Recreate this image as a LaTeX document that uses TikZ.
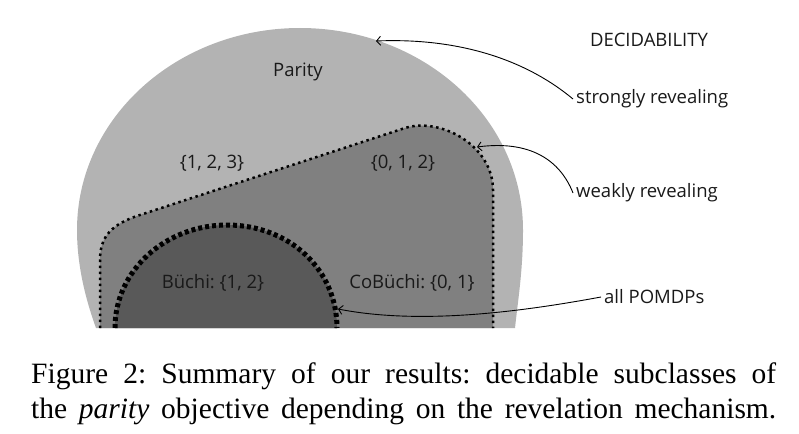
\documentclass[tikz,border=0pt]{standalone}
\usepackage{fontspec}
\setmainfont{Liberation Serif}
\newfontfamily\labelfont{Open Sans}
\usetikzlibrary{arrows.meta}
\definecolor{outergray}{HTML}{B3B3B3}
\definecolor{midgray}{HTML}{808080}
\definecolor{innergray}{HTML}{595959}
\frenchspacing
\begin{document}
\begin{tikzpicture}[x=1pt,y=-1pt,
  lbl/.style={font=\labelfont\fontsize{18.5}{22}\selectfont, inner sep=0pt, text=black!90},
  side/.style={lbl, anchor=west, inner xsep=3pt},
  conn/.style={-{Straight Barb[length=4pt,width=9pt]}, line width=0.9pt},
  dotborder/.style={line width=2.5pt, dash pattern=on 2.5pt off 3.5pt},
  dashborder/.style={line width=5pt, dash pattern=on 4pt off 3pt},
  captext/.style={anchor=base west, inner sep=0pt, font=\fontsize{29.5}{35}\selectfont}]
\useasboundingbox (0,0) rectangle (799,433);
% outer region
\fill[outergray] (96,328) .. controls (84,295) and (77,262) .. (77,230)
  .. controls (77,118) and (177,28) .. (300,28)
  .. controls (423,28) and (523,118) .. (523,230)
  .. controls (523,270) and (518,300) .. (515,328) -- cycle;
% middle region
\fill[midgray] (100,328) -- (100,260) .. controls (100,236) and (112,224) .. (140,215)
  -- (405,128) .. controls (440,117) and (493,145) .. (493,190) -- (493,328) -- cycle;
\draw[dotborder] (100,328) -- (100,260) .. controls (100,236) and (112,224) .. (140,215)
  -- (405,128) .. controls (440,117) and (493,145) .. (493,190) -- (493,328);
% inner region
\fill[innergray] (115,328) .. controls (115,270) and (166,225) .. (227,225)
  .. controls (290,225) and (337,270) .. (337,328) -- cycle;
\draw[dashborder] (115,328) .. controls (115,270) and (166,225) .. (227,225)
  .. controls (290,225) and (337,270) .. (337,328);
% region labels
\node[lbl] (parity) at (298,72) {Parity};
\node[lbl] (p123) at (212,163) {\{1, 2, 3\}};
\node[lbl] (p012) at (403,163) {\{0, 1, 2\}};
\node[lbl] (buchi) at (213,283) {Büchi: \{1, 2\}};
\node[lbl] (cobuchi) at (412,283) {CoBüchi: \{0, 1\}};
% side labels
\node[lbl] (decid) at (649,40) {DECIDABILITY};
\node[side] (strong) at (573,99) {strongly revealing};
\node[side] (weak) at (573,193) {weakly revealing};
\node[side] (allp) at (601,297) {all POMDPs};
\coordinate (strongtip) at (376,41);
\coordinate (weaktip) at (477,147);
\coordinate (alltip) at (338,309);
\draw[conn] (strong.west) .. controls (520,55) and (450,38) .. (strongtip);
\draw[conn] (weak.west) .. controls (560,160) and (530,140) .. (weaktip);
\draw[conn] (allp.west) .. controls (520,312) and (420,325) .. (alltip);
% caption
\node[captext] (cap1) at (31,383) {\makebox[745pt][s]{Figure 2: Summary of our results: decidable subclasses of}};
\node[captext] (cap2) at (31,418) {\makebox[745pt][s]{the \textit{parity} objective depending on the revelation mechanism.}};
\end{tikzpicture}
\end{document}
